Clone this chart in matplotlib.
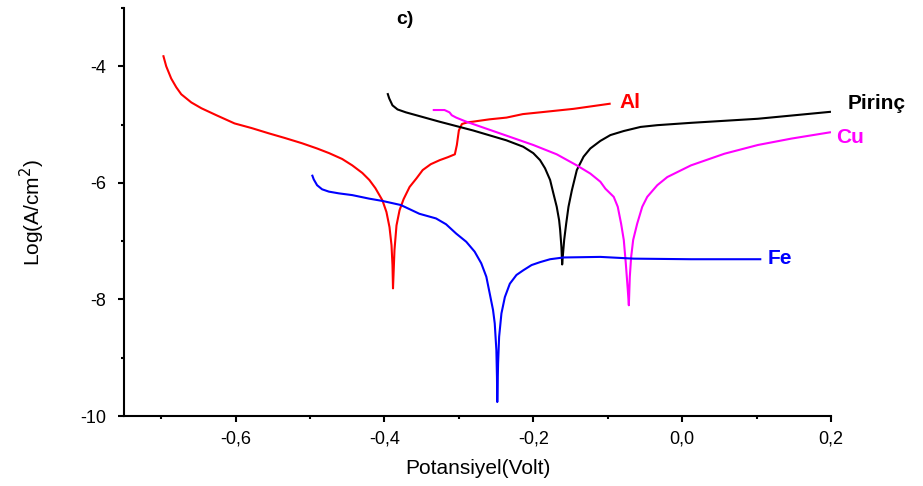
import matplotlib
matplotlib.use("Agg")
import matplotlib.pyplot as plt
from matplotlib.ticker import MultipleLocator, FuncFormatter

plt.rcParams['font.family'] = ['Liberation Sans', 'DejaVu Sans']

# Polarization curves: potential (V) vs log current density (A/cm2)
al_v = [-0.6973, -0.6932, -0.6865, -0.6797, -0.6730, -0.6595, -0.6459, -0.6257,
        -0.6014, -0.5784, -0.5554, -0.5338, -0.5108, -0.4905, -0.4743, -0.4568,
        -0.4432, -0.4297, -0.4203, -0.4122, -0.4027, -0.3973, -0.3932, -0.3905,
        -0.3892, -0.3885, -0.3878, -0.3865, -0.3838, -0.3797, -0.3743, -0.3662,
        -0.3568, -0.3486, -0.3378, -0.3257, -0.3149, -0.3054, -0.3027, -0.3000,
        -0.2959, -0.2878, -0.2811, -0.2590, -0.2360, -0.2140, -0.1910, -0.1460,
        -0.0960]
al_log = [-3.81, -4.00, -4.21, -4.36, -4.48, -4.62, -4.72, -4.84,
          -4.98, -5.06, -5.15, -5.23, -5.32, -5.41, -5.49, -5.59,
          -5.70, -5.83, -5.95, -6.09, -6.30, -6.50, -6.76, -7.07,
          -7.41, -7.81, -7.58, -7.15, -6.73, -6.47, -6.28, -6.07,
          -5.92, -5.78, -5.68, -5.61, -5.56, -5.51, -5.35, -5.10,
          -4.99, -4.96, -4.95, -4.91, -4.88, -4.82, -4.79, -4.73,
          -4.64]

pirinc_v = [-0.3959, -0.3936, -0.3892, -0.3824, -0.3712, -0.3486, -0.3261, -0.2811,
            -0.2361, -0.2135, -0.2000, -0.1909, -0.1842, -0.1774, -0.1730, -0.1685,
            -0.1653, -0.1639, -0.1622, -0.1612, -0.1604, -0.1585, -0.1558, -0.1527,
            -0.1482, -0.1415, -0.1324, -0.1234, -0.1099, -0.0964, -0.0784, -0.0558,
            -0.0334, 0.0118, 0.1018, 0.2000]
pirinc_log = [-4.46, -4.55, -4.67, -4.74, -4.79, -4.87, -4.95, -5.10,
              -5.27, -5.38, -5.49, -5.61, -5.75, -5.95, -6.18, -6.41,
              -6.64, -6.81, -7.10, -7.40, -7.27, -6.98, -6.70, -6.41,
              -6.13, -5.78, -5.55, -5.41, -5.28, -5.18, -5.11, -5.04,
              -5.01, -4.97, -4.90, -4.78]

cu_v = [-0.3351, -0.3193, -0.3126, -0.3095, -0.3036, -0.2901, -0.2450, -0.2000,
        -0.1685, -0.1415, -0.1234, -0.1099, -0.1031, -0.0919, -0.0865, -0.0820,
        -0.0784, -0.0757, -0.0730, -0.0716, -0.0703, -0.0685, -0.0658, -0.0604,
        -0.0536, -0.0469, -0.0334, -0.0199, 0.0118, 0.0568, 0.1018, 0.1469,
        0.2000]
cu_log = [-4.75, -4.75, -4.79, -4.84, -4.88, -4.95, -5.15, -5.35,
          -5.51, -5.70, -5.84, -5.98, -6.10, -6.24, -6.41, -6.70,
          -6.98, -7.38, -7.84, -8.10, -7.61, -7.27, -6.98, -6.70,
          -6.41, -6.24, -6.04, -5.90, -5.70, -5.50, -5.35, -5.24,
          -5.13]

fe_v = [-0.4973, -0.4950, -0.4905, -0.4838, -0.4747, -0.4612, -0.4432, -0.4207,
        -0.4027, -0.3780, -0.3531, -0.3307, -0.3172, -0.3036, -0.2901, -0.2788,
        -0.2699, -0.2631, -0.2585, -0.2541, -0.2518, -0.2496, -0.2488, -0.2484,
        -0.2473, -0.2459, -0.2428, -0.2382, -0.2315, -0.2226, -0.2135, -0.2023,
        -0.1909, -0.1774, -0.1595, -0.1099, -0.0649, 0.0118, 0.1064]
fe_log = [-5.86, -5.94, -6.04, -6.11, -6.15, -6.18, -6.21, -6.27,
          -6.31, -6.38, -6.53, -6.61, -6.71, -6.87, -7.01, -7.18,
          -7.38, -7.61, -7.90, -8.18, -8.41, -8.87, -9.33, -9.76,
          -9.10, -8.64, -8.24, -7.96, -7.73, -7.58, -7.50, -7.41,
          -7.36, -7.31, -7.28, -7.27, -7.30, -7.31, -7.31]

series = [
    ("Al", al_v, al_log, "#ff0000", (-0.084, -4.62)),
    ("Pirinç", pirinc_v, pirinc_log, "#000000", (0.223, -4.63)),
    ("Cu", cu_v, cu_log, "#ff00ff", (0.207, -5.22)),
    ("Fe", fe_v, fe_log, "#0000ff", (0.115, -7.29)),
]

fig = plt.figure(figsize=(9.23, 4.86), dpi=100)
ax = fig.add_axes([0.1343, 0.144, 0.766, 0.8395])

for name, v, lg, color, (tx, ty) in series:
    ax.plot(v, lg, color=color, linewidth=1.5, solid_joinstyle='round',
            solid_capstyle='butt')
    ax.text(tx, ty, name, color=color, fontsize=15, fontweight='bold',
            ha='left', va='center')

ax.set_xlim(-0.75, 0.2)
ax.set_ylim(-10, -3)

ax.xaxis.set_major_locator(MultipleLocator(0.2))
ax.xaxis.set_minor_locator(MultipleLocator(0.1))
ax.yaxis.set_major_locator(MultipleLocator(2))
ax.yaxis.set_minor_locator(MultipleLocator(1))

def comma_fmt(val, pos):
    s = f"{val:.1f}".replace(".", ",")
    if s == "-0,0":
        s = "0,0"
    return s

ax.xaxis.set_major_formatter(FuncFormatter(comma_fmt))
ax.yaxis.set_major_formatter(FuncFormatter(lambda v, p: f"{int(round(v))}"))

for side in ("top", "right"):
    ax.spines[side].set_visible(False)
for side in ("left", "bottom"):
    ax.spines[side].set_linewidth(1.5)

ax.tick_params(which='major', direction='out', length=4.5, width=1.5, labelsize=13)
ax.tick_params(which='minor', direction='out', length=2.5, width=1.5)
ax.tick_params(axis='y', which='major', pad=8)
ax.tick_params(axis='x', which='major', pad=6)

ax.set_xlabel("Potansiyel(Volt)", fontsize=15, labelpad=8)
ax.set_ylabel("Log(A/cm$^2$)", fontsize=15, labelpad=24)

ax.text(-0.384, -3.19, "c)", fontsize=14, fontweight='bold', ha='left', va='center')

fig.savefig("out.png", dpi=100)
